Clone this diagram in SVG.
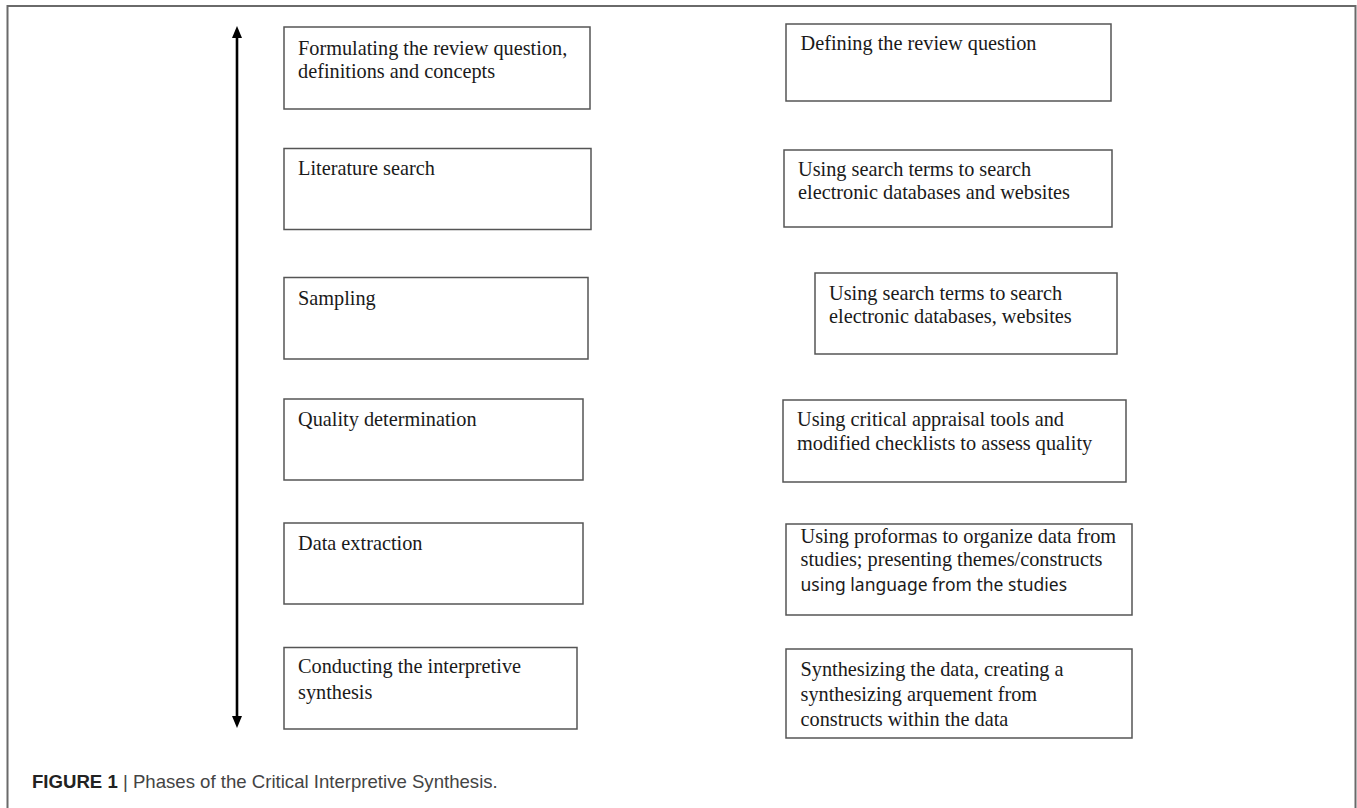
<svg xmlns="http://www.w3.org/2000/svg" width="1357" height="808" viewBox="0 0 1357 808">
<style>
.frame{fill:none;stroke:#6a6a6a;stroke-width:2}
.box{fill:#fff;stroke:#555;stroke-width:1.5}
.t{font-family:"Liberation Serif","Times New Roman",serif;font-size:20.3px;fill:#1a1a1a}
.s{font-family:"Noto Sans","Open Sans",sans-serif;font-size:17.5px;fill:#1a1a1a}
.cap{font-family:"Liberation Sans",Arial,sans-serif;font-size:18.6px;fill:#444}
.capb{font-weight:bold;fill:#222}
.head{fill:#000}
</style>
<rect width="1357" height="808" fill="#fff"/>
<path class="frame" d="M7.5,808 V6 H1355.5 V808"/>
<g id="connectors">
<line x1="237" y1="34" x2="237" y2="720" stroke="#000" stroke-width="2.6"/>
<path class="head" d="M237,26 L242,38 L232,38 z"/>
<path class="head" d="M237,728 L242,716 L232,716 z"/>
</g>
<g id="l1"><rect class="box" x="284" y="27" width="306" height="82"/><text class="t" x="298" y="55">Formulating the review question,</text><text class="t" x="298" y="78">definitions and concepts</text></g>
<g id="l2"><rect class="box" x="284" y="148.5" width="307" height="81"/><text class="t" x="298" y="175">Literature search</text></g>
<g id="l3"><rect class="box" x="284" y="277.5" width="304" height="81.5"/><text class="t" x="298" y="305">Sampling</text></g>
<g id="l4"><rect class="box" x="284" y="399" width="299" height="81"/><text class="t" x="298" y="426">Quality determination</text></g>
<g id="l5"><rect class="box" x="284" y="523" width="299" height="81"/><text class="t" x="298" y="550">Data extraction</text></g>
<g id="l6"><rect class="box" x="284" y="647.5" width="293" height="81.5"/><text class="t" x="298" y="673">Conducting the interpretive</text><text class="t" x="298" y="699">synthesis</text></g>
<g id="r1"><rect class="box" x="786" y="24" width="325" height="77"/><text class="t" x="800.5" y="50">Defining the review question</text></g>
<g id="r2"><rect class="box" x="784" y="150" width="328" height="77"/><text class="t" x="798" y="176">Using search terms to search</text><text class="t" x="798" y="199">electronic databases and websites</text></g>
<g id="r3"><rect class="box" x="815" y="273" width="302" height="81"/><text class="t" x="829" y="300">Using search terms to search</text><text class="t" x="829" y="323">electronic databases, websites</text></g>
<g id="r4"><rect class="box" x="783" y="400" width="343" height="82"/><text class="t" x="797" y="426">Using critical appraisal tools and</text><text class="t" x="797" y="450">modified checklists to assess quality</text></g>
<g id="r5"><rect class="box" x="786" y="524" width="346" height="91"/><text class="t" x="800.5" y="543">Using proformas to organize data from</text><text class="t" x="800.5" y="566">studies; presenting themes/constructs</text><text class="s" x="800.5" y="591">using language from the studies</text></g>
<g id="r6"><rect class="box" x="786" y="649" width="346" height="89"/><text class="t" x="800.5" y="676">Synthesizing the data, creating a</text><text class="t" x="800.5" y="701">synthesizing arquement from</text><text class="t" x="800.5" y="726">constructs within the data</text></g>
<g id="caption"><text class="cap" x="32" y="788"><tspan class="capb">FIGURE 1</tspan> | Phases of the Critical Interpretive Synthesis.</text></g>
</svg>
